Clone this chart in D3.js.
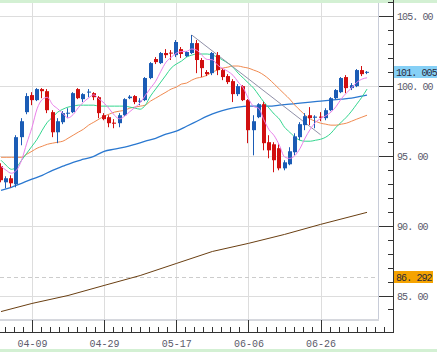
<!DOCTYPE html>
<html>
<head>
<meta charset="utf-8">
<script src="https://cdn.jsdelivr.net/npm/d3@7/dist/d3.min.js"></script>
<style>
  body { margin: 0; background: #fff; }
  svg { display: block; font-family: "Liberation Mono", "DejaVu Sans Mono", monospace; }
</style>
</head>
<body>
<script>

// Trading days (weekdays) shown on the chart, formatted as MM-DD
const dates = d3.timeDay.range(new Date(2024, 3, 1), new Date(2024, 6, 10))
    .filter(d => d.getDay() % 6 !== 0)
    .map(d3.timeFormat("%m-%d"));

// Candles
const open  = [94.25,93.10,93.39,92.96,96.33,98.12,99.34,98.98,99.77,99.62,98.12,96.68,97.40,98.01,98.12,99.77,99.05,99.52,99.48,99.19,
               97.90,97.76,97.37,97.33,97.90,99.12,99.27,98.87,98.98,100.56,101.92,101.63,102.35,102.38,102.20,102.63,102.13,102.35,103.06,101.85,
               100.99,100.91,102.20,101.13,100.70,100.34,99.41,99.98,98.98,96.83,97.76,98.69,95.97,95.82,95.54,94.10,94.39,95.25,96.33,97.19,
               97.90,97.72,97.80,97.69,98.26,99.12,99.55,100.63,99.84,99.98,101.13,100.96];
const high  = [94.46,93.53,93.60,96.47,97.69,99.48,99.55,99.84,99.84,99.77,98.26,97.69,98.19,98.40,99.55,99.84,99.48,99.77,99.55,99.27,
               98.05,97.90,97.62,98.05,99.12,99.34,99.34,99.12,100.63,101.70,102.06,102.42,102.63,102.56,103.28,102.78,102.49,103.64,103.28,101.99,
               101.13,102.42,102.42,101.27,100.84,100.48,100.13,100.05,99.05,97.90,98.76,98.84,96.47,95.97,95.82,94.68,95.61,96.61,97.40,98.05,
               98.48,97.90,98.12,98.40,99.19,99.77,100.63,100.77,100.20,101.20,101.42,101.06];
const low   = [93.10,92.67,92.74,92.74,95.75,97.97,98.62,98.91,99.12,98.05,96.33,95.90,97.26,97.69,98.05,99.05,98.84,99.19,98.98,97.69,
               97.54,97.04,96.97,97.04,97.83,99.05,98.69,98.62,98.91,100.48,101.56,101.56,101.99,101.85,102.06,101.99,102.06,102.28,100.91,100.63,
               100.70,100.77,100.77,100.41,100.13,98.84,99.27,98.91,95.90,95.03,97.69,95.39,94.82,93.82,93.96,93.96,94.32,95.03,96.11,96.83,
               97.19,96.97,97.47,97.54,98.19,99.05,99.48,99.48,99.70,99.91,100.70,100.84];
const close = [93.25,93.39,93.03,96.33,97.47,99.27,98.98,99.77,99.62,98.26,96.68,97.47,98.05,98.08,99.48,99.12,99.41,99.59,99.19,98.05,
               97.62,97.33,97.29,97.90,99.05,99.23,98.84,98.94,100.56,101.63,101.70,102.35,102.20,102.31,103.14,102.28,102.42,103.06,101.85,101.27,
               100.84,102.35,101.13,100.63,100.27,99.41,99.98,98.98,96.83,97.47,98.69,95.90,95.39,94.68,94.10,94.53,95.32,96.39,97.26,97.83,
               97.69,97.80,97.72,98.26,99.12,99.70,100.56,99.84,100.05,101.13,100.84,101.005];

// Moving averages (one value per candle)
const maPink   = [94.25,93.96,93.75,93.96,94.69,95.90,97.01,98.36,99.02,99.18,98.66,98.36,98.02,97.71,97.95,98.44,98.83,99.14,99.36,99.07,
                  98.77,98.36,97.90,97.64,97.84,98.16,98.46,98.79,99.32,99.84,100.33,101.04,101.69,102.04,102.34,102.46,102.47,102.64,102.55,102.18,
                  101.89,101.87,101.49,101.24,101.04,100.76,100.28,99.85,99.09,98.53,98.39,97.57,96.86,96.43,95.75,94.92,94.81,95.01,95.52,96.27,
                  96.90,97.39,97.66,97.86,98.12,98.52,99.07,99.49,99.85,100.25,100.48,100.58];
const maGreen  = [94.68,94.32,94.03,94.18,94.68,95.18,95.68,96.18,96.83,97.40,97.76,98.12,98.33,98.48,98.55,98.62,98.62,98.62,98.62,98.55,
                  98.55,98.55,98.55,98.55,98.55,98.48,98.41,98.33,98.62,99.27,99.77,100.27,100.77,101.27,101.56,101.77,102.06,102.20,102.28,102.28,
                  102.28,102.20,102.06,101.85,101.63,101.34,100.91,100.56,100.20,99.84,99.34,98.84,98.41,97.98,97.62,97.04,96.69,96.33,96.11,96.04,
                  96.04,96.11,96.18,96.33,96.61,97.04,97.40,97.76,98.19,98.69,99.19,99.77];
const maOrange = [94.89,94.89,94.89,94.89,94.89,95.11,95.32,95.54,95.68,95.82,95.90,95.97,96.04,96.25,96.47,96.69,96.90,97.19,97.40,97.62,
                  97.83,97.98,98.12,98.19,98.26,98.41,98.48,98.55,98.62,98.91,99.12,99.34,99.55,99.77,99.91,100.13,100.20,100.41,100.56,100.63,
                  100.77,100.99,101.13,101.27,101.34,101.42,101.42,101.34,101.27,101.13,100.99,100.77,100.48,100.13,99.77,99.41,99.05,98.62,98.26,97.90,
                  97.62,97.47,97.33,97.26,97.19,97.19,97.26,97.33,97.47,97.62,97.76,97.90];

// Slow moving averages, read at a few dates
const maBlue = [["04-01",92.53],["04-03",92.74],["04-05",93.03],["04-09",93.32],["04-11",93.60],["04-15",93.96],["04-17",94.25],
                ["04-19",94.53],["04-23",94.75],["04-25",94.96],["04-29",95.32],["05-01",95.47],["05-03",95.61],["05-07",95.82],
                ["05-09",96.04],["05-13",96.25],["05-15",96.54],["05-17",96.76],["05-21",97.11],["05-23",97.47],["05-27",97.83],
                ["05-29",98.12],["05-31",98.33],["06-04",98.48],["06-06",98.55],["06-10",98.55],["06-12",98.55],["06-14",98.62],
                ["06-18",98.69],["06-20",98.76],["06-24",98.84],["06-26",98.91],["06-28",98.98],["07-02",99.05],["07-04",99.12],
                ["07-08",99.27],["07-09",99.34]];
const maBrown = [["04-01",83.85],["04-09",84.43],["04-18",85.00],["04-29",85.72],["05-08",86.43],["05-17",87.29],
                 ["05-28",88.15],["06-06",88.73],["06-17",89.37],["06-26",90.09],["07-09",90.95]];

// Gray trend line drawn from the May high
const trendLine = [["05-22",103.64],["06-26",96.50]];

// Axis labels and marked levels
const tickDates = ["04-09","04-29","05-17","06-06","06-26"];
const priceTicks = [85, 90, 95, 100, 105];
const refLevel = 86.292;

// Layout
const width = 437, height = 352;
const plotRight = 378, plotTop = 3, plotBottom = 319;
const axisX = 393, axisY = 332;
const labelColor = "#5a5a6a";

const svg = d3.select("body").append("svg")
    .attr("width", width)
    .attr("height", height);

svg.append("rect").attr("width", width).attr("height", height).attr("fill", "#fff");

// Scales
const x = d3.scaleBand().domain(dates).range([-1.58, 369.6]).paddingInner(0);
const cx = d => x(d) + x.bandwidth() / 2;
const y = d3.scaleLinear().domain([85, 105]).range([295.5, 16]);

const fmt = (v, n) => d3.format(`.${n}f`)(v).replace(".", ". ");

// Green bands at top and bottom
svg.append("rect").attr("x", 0).attr("y", 0).attr("width", width).attr("height", 3).attr("fill", "#d3f0d3");
svg.append("rect").attr("x", 0).attr("y", 349).attr("width", width).attr("height", 3).attr("fill", "#d3f0d3");

// Grid
const grid = svg.append("g").attr("stroke", "#dddddd").attr("stroke-width", 1);
grid.selectAll(".hg").data(priceTicks).join("line")
    .attr("x1", 0).attr("x2", plotRight)
    .attr("y1", d => Math.round(y(d)) + 0.5).attr("y2", d => Math.round(y(d)) + 0.5);
grid.selectAll(".vg").data(tickDates).join("line")
    .attr("x1", d => Math.round(cx(d)) + 0.5).attr("x2", d => Math.round(cx(d)) + 0.5)
    .attr("y1", plotTop).attr("y2", plotBottom);

// Reference level
svg.append("line")
    .attr("x1", 0).attr("x2", plotRight)
    .attr("y1", Math.round(y(refLevel)) + 0.5).attr("y2", Math.round(y(refLevel)) + 0.5)
    .attr("stroke", "#cccccc").attr("stroke-dasharray", "4,3");

// Plot frame
svg.append("line").attr("x1", plotRight + 0.5).attr("x2", plotRight + 0.5)
    .attr("y1", plotTop).attr("y2", plotBottom + 1).attr("stroke", "#c8ccd8");
svg.append("rect").attr("x", 0).attr("y", plotBottom).attr("width", plotRight + 1).attr("height", 2).attr("fill", "#d6d8de");

// Clip everything drawn inside the plot
svg.append("clipPath").attr("id", "clip")
    .append("rect").attr("x", 0).attr("y", plotTop).attr("width", plotRight).attr("height", plotBottom - plotTop);
const render = svg.append("g").attr("clip-path", "url(#clip)");

const straight = d3.line().x(d => cx(d[0])).y(d => y(d[1]));
const smooth = d3.line().x(d => cx(d[0])).y(d => y(d[1])).curve(d3.curveMonotoneX);
const full = arr => arr.map((v, i) => [dates[i], v]);

function plotLine(data, colour, gen, w = 1) {
    render.append("path")
        .datum(data)
        .attr("fill", "none")
        .attr("stroke", colour)
        .attr("stroke-width", w)
        .attr("d", gen);
}

// Slow averages and trend line
plotLine(maBrown, "#6a3f12", straight);
plotLine(maBlue, "#2a78d0", smooth, 1.3);
plotLine(full(maOrange), "#f08a50", smooth);
plotLine(full(maGreen), "#33d68f", smooth);
plotLine(trendLine, "#9090a8", straight);

// Candles
const candles = dates.map((d, i) => ({ date: d, o: open[i], h: high[i], l: low[i], c: close[i] }));
const colourOf = d => d.c >= d.o ? "#1b5cb5" : "#d10f0f";
const cg = render.append("g");
cg.selectAll(".wick").data(candles).join("line")
    .attr("x1", d => Math.round(cx(d.date)) - 0.5).attr("x2", d => Math.round(cx(d.date)) - 0.5)
    .attr("y1", d => y(d.h)).attr("y2", d => y(d.l))
    .attr("stroke", colourOf);
cg.selectAll(".body").data(candles).join("rect")
    .attr("x", d => Math.round(cx(d.date)) - 2)
    .attr("width", 4)
    .attr("y", d => y(Math.max(d.o, d.c)))
    .attr("height", d => Math.max(1, Math.abs(y(d.o) - y(d.c))))
    .attr("fill", colourOf);

// Fast average on top
plotLine(full(maPink), "#ea80ea", smooth);

// Axes
const axis = svg.append("g").attr("stroke", "#333");
axis.append("line").attr("x1", axisX + 0.5).attr("x2", axisX + 0.5).attr("y1", 0).attr("y2", axisY + 1);
axis.append("line").attr("x1", 0).attr("x2", axisX + 1).attr("y1", axisY + 0.5).attr("y2", axisY + 0.5);

// Price ticks: majors every 5, minors every 1
const minorPrices = d3.range(84, 107).filter(v => y(v) > 0 && y(v) < plotBottom + 2);
axis.selectAll(".ytick").data(minorPrices).join("line")
    .attr("x1", d => priceTicks.includes(d) ? plotRight + 1 : axisX - 5).attr("x2", axisX)
    .attr("y1", d => Math.round(y(d)) + 0.5).attr("y2", d => Math.round(y(d)) + 0.5);

// Date ticks: majors at labels, 8 minor steps between them
const step = (cx(tickDates[1]) - cx(tickDates[0])) / 8;
const minorX = d3.range(-4, 45).map(k => cx(tickDates[0]) + k * step).filter(v => v > 0 && v < axisX - 5);
axis.selectAll(".xmin").data(minorX).join("line")
    .attr("x1", d => Math.round(d) + 0.5).attr("x2", d => Math.round(d) + 0.5)
    .attr("y1", axisY - 5).attr("y2", axisY);
axis.selectAll(".xmaj").data(tickDates).join("line")
    .attr("x1", d => Math.round(cx(d)) + 0.5).attr("x2", d => Math.round(cx(d)) + 0.5)
    .attr("y1", plotBottom + 1).attr("y2", axisY);

// Labels
svg.selectAll(".ylab").data(priceTicks).join("text")
    .attr("x", axisX + 4).attr("y", d => y(d) + 4)
    .attr("font-size", 10).attr("letter-spacing", -0.9).attr("fill", labelColor)
    .text(d => fmt(d, 2));
svg.selectAll(".xlab").data(tickDates).join("text")
    .attr("x", d => cx(d) + 0.5).attr("y", 347)
    .attr("text-anchor", "middle")
    .attr("font-size", 10).attr("fill", labelColor)
    .text(d => d);

// Value markers on the right axis
function marker(v, n, fill, w) {
    const yy = Math.round(y(v));
    svg.append("rect").attr("x", axisX + 1).attr("y", yy - 6).attr("width", w).attr("height", 12).attr("fill", fill);
    svg.append("text").attr("x", axisX + 3).attr("y", yy + 4)
        .attr("font-size", 10).attr("letter-spacing", -0.9).attr("fill", "#2a2a3a")
        .text(fmt(v, n));
}
marker(close[close.length - 1], 3, "#86d0f6", 44);
marker(refLevel, 3, "#f5a300", 39);

</script>
</body>
</html>
